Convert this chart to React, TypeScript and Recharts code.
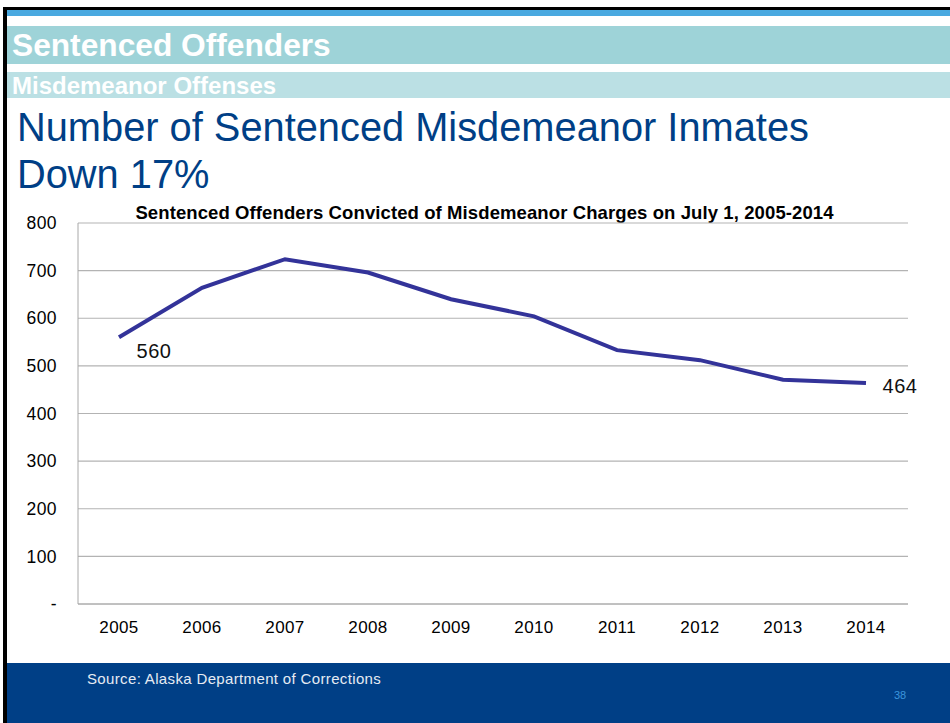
import { CartesianGrid, LabelList, Line, LineChart, XAxis, YAxis } from "recharts";

const years = ["2005", "2006", "2007", "2008", "2009", "2010", "2011", "2012", "2013", "2014"];
const inmates = [560, 664, 724, 696, 640, 604, 533, 512, 471, 464];
const yTicks = [0, 100, 200, 300, 400, 500, 600, 700, 800];

const data = years.map((year, i) => ({ year, value: inmates[i] }));

const font = "'Liberation Sans', Arial, sans-serif";
const navy = "#003f86";

function EndLabel(props: any) {
  const { x, y, value, index } = props;
  if (index === 0) {
    return (
      <text x={x + 35} y={y + 14} textAnchor="middle" dominantBaseline="central"
        fontSize={20} fontFamily={font} fill="#111" letterSpacing={0.5}>
        {value}
      </text>
    );
  }
  if (index === inmates.length - 1) {
    return (
      <text x={x + 34} y={y + 3} textAnchor="middle" dominantBaseline="central"
        fontSize={20} fontFamily={font} fill="#111" letterSpacing={0.5}>
        {value}
      </text>
    );
  }
  return null;
}

export default function App() {
  return (
    <div style={{ position: "absolute", left: 0, top: 0, width: 950, height: 723, background: "#fff", overflow: "hidden", fontFamily: font }}>
      {/* slide frame */}
      <div style={{ position: "absolute", left: 3, top: 7, width: 947, height: 3, background: "#000" }} />
      <div style={{ position: "absolute", left: 3, top: 7, width: 4, height: 716, background: "#000" }} />
      <div style={{ position: "absolute", left: 7, top: 10, width: 943, height: 6, background: "#4aa9e0" }} />

      <div style={{ position: "absolute", left: 7, top: 26, width: 943, height: 38, background: "#9ed3d8" }} />
      <div style={{ position: "absolute", left: 12, top: 26, height: 38, lineHeight: "38px", color: "#fff", fontWeight: "bold", fontSize: 31.7 }}>
        Sentenced Offenders
      </div>
      <div style={{ position: "absolute", left: 7, top: 72, width: 943, height: 26, background: "#bbe0e4" }} />
      <div style={{ position: "absolute", left: 12, top: 72, height: 26, lineHeight: "28px", color: "#fff", fontWeight: "bold", fontSize: 24 }}>
        Misdemeanor Offenses
      </div>

      <div style={{ position: "absolute", left: 17, top: 104, lineHeight: "47px", color: navy, fontSize: 39.8 }}>
        Number of Sentenced Misdemeanor Inmates
        <br />
        Down 17%
      </div>

      <div style={{ position: "absolute", left: 7, width: 955, top: 202, textAlign: "center", fontWeight: "bold", fontSize: 18.5, letterSpacing: 0.1, color: "#000" }}>
        Sentenced Offenders Convicted of Misdemeanor Charges on July 1, 2005-2014
      </div>

      <div style={{ position: "absolute", left: 0, top: 195 }}>
        <LineChart width={950} height={450} data={data} margin={{ top: 28, right: 42, left: 8, bottom: 11 }}>
          <CartesianGrid vertical={false} stroke="#b3b3b3" strokeWidth={1.2} />
          <XAxis
            dataKey="year"
            padding={{ left: 41, right: 42 }}
            tickLine={false}
            axisLine={{ stroke: "#a8a8a8" }}
            tickSize={0}
            tickMargin={17}
            height={30}
            tick={{ fontSize: 17, fill: "#000", fontFamily: font, letterSpacing: 0.4 }}
          />
          <YAxis
            domain={[0, 800]}
            ticks={yTicks}
            width={70}
            tickLine={false}
            axisLine={{ stroke: "#a8a8a8" }}
            tickSize={0}
            tickMargin={21}
            tickFormatter={(v: number) => (v === 0 ? "-" : String(v))}
            tick={{ fontSize: 17.5, fill: "#000", fontFamily: font, letterSpacing: 0.4 }}
          />
          <Line
            type="linear"
            dataKey="value"
            stroke="#333399"
            strokeWidth={4}
            dot={false}
            isAnimationActive={false}
          >
            <LabelList dataKey="value" content={EndLabel} />
          </Line>
        </LineChart>
      </div>

      {/* footer */}
      <div style={{ position: "absolute", left: 7, top: 663, width: 943, height: 60, background: navy }} />
      <div style={{ position: "absolute", left: 87, top: 670, fontSize: 15, letterSpacing: 0.35, color: "#e6ebf3" }}>
        Source: Alaska Department of Corrections
      </div>
      <div style={{ position: "absolute", left: 894, top: 689, fontSize: 11, color: "#3c95dc" }}>38</div>
    </div>
  );
}
